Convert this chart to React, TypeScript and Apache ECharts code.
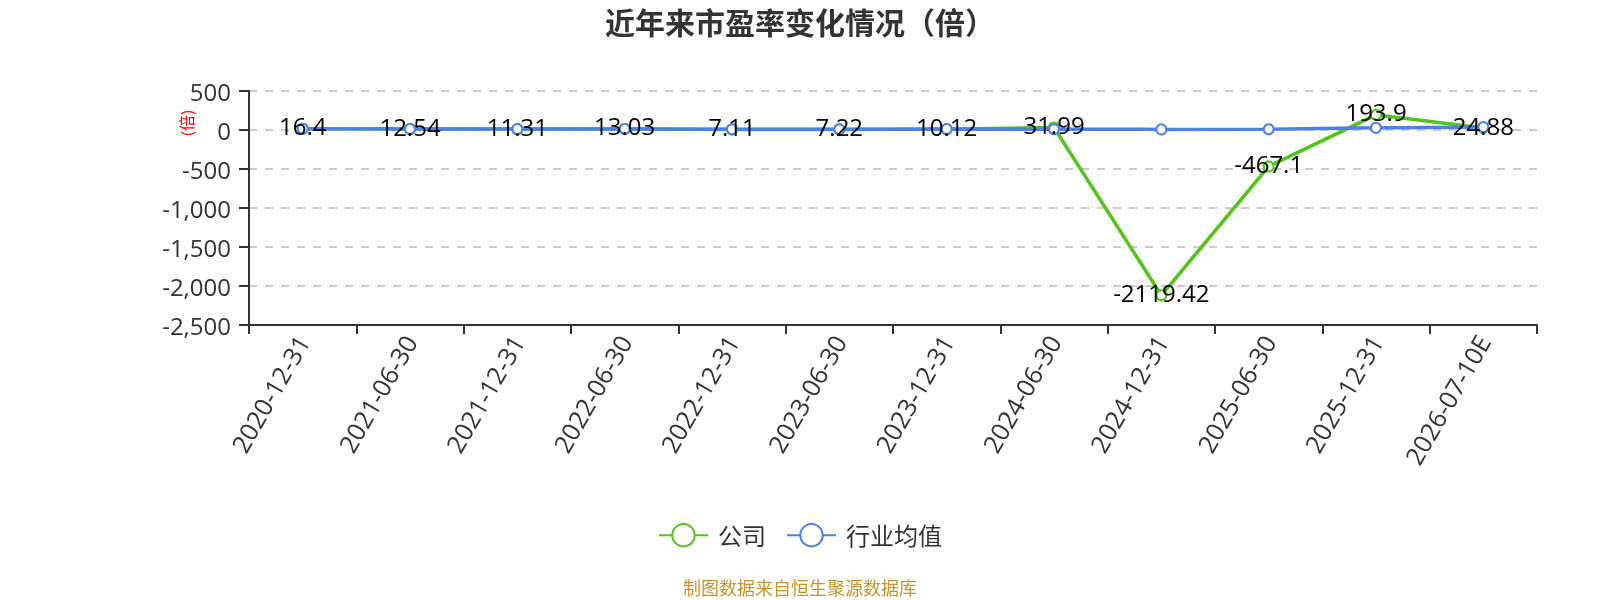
import React, { useEffect, useRef } from "react";
import * as echarts from "echarts";

const categories = [
  "2020-12-31", "2021-06-30", "2021-12-31", "2022-06-30", "2022-12-31", "2023-06-30",
  "2023-12-31", "2024-06-30", "2024-12-31", "2025-06-30", "2025-12-31", "2026-07-10E",
];
const companyValues = [16.4, 12.54, 11.31, 13.03, 7.11, 7.22, 10.12, 31.99, -2119.42, -467.1, 193.9, 24.88];
const industryValues = [16, 14, 13, 14, 10, 10, 12, 10, 8, 10, 28, 38];
const yTicks = { min: -2500, max: 500, interval: 500 };
const seriesNames = ["公司", "行业均值"];

const FONT = "'Open Sans', 'Noto Sans CJK SC', sans-serif";

export default function App() {
  const ref = useRef<HTMLDivElement>(null);
  useEffect(() => {
    const chart = echarts.init(ref.current!, null, { renderer: "svg" });
    chart.setOption({
      animation: false,
      title: {
        text: "近年来市盈率变化情况（倍）",
        left: 605,
        top: 7,
        padding: 0,
        textStyle: { fontSize: 30, fontWeight: "bold", color: "#333", fontFamily: FONT },
      },
      legend: {
        data: seriesNames,
        left: 658,
        top: 523,
        padding: 0,
        itemWidth: 49,
        itemHeight: 28,
        itemGap: 20,
        textStyle: { fontSize: 24, color: "#333", fontFamily: FONT, padding: [0, 0, 0, 5] },
      },
      grid: { left: 249, right: 63, top: 91, bottom: 275 },
      xAxis: [
        {
          type: "category",
          data: categories,
          position: "bottom",
          axisLine: { show: false },
          axisTick: { show: false },
          axisLabel: {
            rotate: 60,
            fontSize: 25,
            color: "#333",
            fontFamily: FONT,
            margin: 12,
            interval: 0,
          },
        },
        {
          type: "category",
          data: categories,
          position: "bottom",
          axisLine: { show: true, onZero: true, lineStyle: { color: "#333", width: 2 } },
          axisTick: { show: true, length: 9, lineStyle: { color: "#333", width: 2 } },
          axisLabel: { show: false },
        },
      ],
      yAxis: {
        type: "value",
        min: yTicks.min,
        max: yTicks.max,
        interval: yTicks.interval,
        axisLine: { show: true, lineStyle: { color: "#333", width: 2 } },
        axisTick: { show: true, length: 10, lineStyle: { color: "#333", width: 2 } },
        axisLabel: { fontSize: 24, color: "#333", fontFamily: FONT, margin: 18 },
        splitLine: { show: true, lineStyle: { type: [8, 8], color: "#ccc", width: 2 } },
      },
      series: [
        {
          name: seriesNames[0],
          type: "line",
          data: companyValues,
          xAxisIndex: 0,
          symbol: "emptyCircle",
          symbolSize: 10,
          color: "#52c41a",
          lineStyle: { width: 3.5, color: "#52c41a" },
          label: {
            show: true,
            position: "inside",
            offset: [0, -3],
            fontSize: 24,
            color: "#000",
            fontFamily: FONT,
          },
        },
        {
          name: seriesNames[1],
          type: "line",
          data: industryValues,
          xAxisIndex: 0,
          symbol: "emptyCircle",
          symbolSize: 10,
          color: "#4e80e6",
          lineStyle: { width: 3.5, color: "#4e80e6" },
        },
      ],
      graphic: [
        {
          type: "text",
          x: 187,
          y: 123,
          rotation: Math.PI / 2,
          style: {
            text: "(倍)",
            fill: "red",
            fontSize: 16,
            fontFamily: FONT,
            textAlign: "center",
            textVerticalAlign: "middle",
            verticalAlign: "middle",
          },
        },
        {
          type: "text",
          x: 800,
          y: 588,
          style: {
            text: "制图数据来自恒生聚源数据库",
            fill: "#c8952a",
            fontSize: 18,
            fontFamily: FONT,
            textAlign: "center",
            textVerticalAlign: "middle",
            verticalAlign: "middle",
          },
        },
      ],
    });
    return () => chart.dispose();
  }, []);
  return (
    <div
      ref={ref}
      style={{ position: "fixed", left: 0, top: 0, width: 1600, height: 600 }}
    />
  );
}
